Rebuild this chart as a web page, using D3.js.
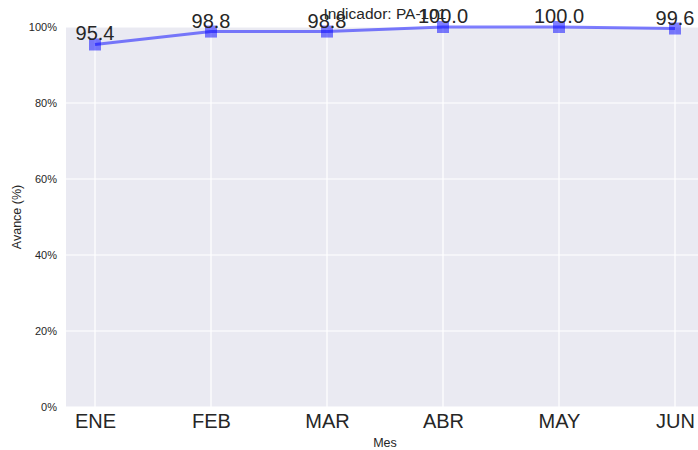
<!DOCTYPE html>
<html>
<head>
<meta charset="utf-8">
<script src="https://cdn.jsdelivr.net/npm/d3@7"></script>
<style>
  body { margin: 0; background: #fff; }
  svg { display: block; font-family: 'Liberation Sans', Arial, sans-serif; }
</style>
</head>
<body>
<div id="chart"></div>
<script>
const months = ['ENE', 'FEB', 'MAR', 'ABR', 'MAY', 'JUN']
const avance = [95.4, 98.8, 98.8, 100.0, 100.0, 99.6]
const yTicks = [0, 20, 40, 60, 80, 100]
const title = 'Indicador: PA-101'

const width = 698
const height = 450
const margin = { top: 27, right: -6, bottom: 43, left: 66 }

const svg = d3.select('#chart')
  .append('svg')
  .attr('width', width)
  .attr('height', height)

const x = d3.scaleLinear()
  .domain([-0.25, months.length - 0.75])
  .range([margin.left, width - margin.right])
const y = d3.scaleLinear()
  .domain([0, 100])
  .range([height - margin.bottom, margin.top])

svg.append('clipPath').attr('id', 'plotclip')
  .append('rect')
  .attr('x', margin.left).attr('y', margin.top)
  .attr('width', width - margin.right - margin.left)
  .attr('height', height - margin.bottom - margin.top)

// background
svg.append('rect')
  .attr('x', margin.left).attr('y', margin.top)
  .attr('width', width - margin.right - margin.left)
  .attr('height', height - margin.bottom - margin.top)
  .attr('fill', '#eaeaf2')

const grid = svg.append('g').attr('clip-path', 'url(#plotclip)')
grid.selectAll('.gy').data(yTicks).join('line')
  .attr('x1', margin.left).attr('x2', width - margin.right)
  .attr('y1', d => y(d)).attr('y2', d => y(d))
  .attr('stroke', '#fff').attr('stroke-width', 1.2)
grid.selectAll('.gx').data(months).join('line')
  .attr('x1', (d, i) => x(i)).attr('x2', (d, i) => x(i))
  .attr('y1', margin.top).attr('y2', height - margin.bottom)
  .attr('stroke', '#fff').attr('stroke-width', 1.2)

// y axis
const yAxis = svg.append('g')
  .attr('transform', `translate(${margin.left},0)`)
  .call(d3.axisLeft(y).tickValues(yTicks).tickFormat(d => d + '%').tickSize(0).tickPadding(9))
yAxis.select('.domain').remove()
yAxis.selectAll('text').attr('font-size', 11).attr('fill', '#262626')
  .attr('font-family', "'Liberation Sans', Arial, sans-serif")

// x axis
const xAxis = svg.append('g')
  .attr('transform', `translate(0,${height - margin.bottom})`)
  .call(d3.axisBottom(x).tickValues(d3.range(months.length)).tickFormat(i => months[i]).tickSize(0).tickPadding(7))
xAxis.select('.domain').remove()
xAxis.selectAll('text').attr('font-size', 20).attr('fill', '#262626')
  .attr('font-family', "'Liberation Sans', Arial, sans-serif")

// axis labels
svg.append('text')
  .attr('x', (margin.left + width - margin.right) / 2)
  .attr('y', 447)
  .attr('text-anchor', 'middle')
  .attr('font-size', 12.5).attr('fill', '#262626')
  .text('Mes')
svg.append('text')
  .attr('transform', `translate(21,${(margin.top + height - margin.bottom) / 2}) rotate(-90)`)
  .attr('text-anchor', 'middle')
  .attr('font-size', 12.5).attr('fill', '#262626')
  .text('Avance (%)')

// line
const line = d3.line()
  .x((d, i) => x(i))
  .y(d => y(d))
svg.append('path')
  .datum(avance)
  .attr('d', line)
  .attr('fill', 'none')
  .attr('stroke', 'blue')
  .attr('stroke-opacity', 0.5)
  .attr('stroke-width', 3)

svg.selectAll('.pt').data(avance).join('rect')
  .attr('x', (d, i) => x(i) - 6)
  .attr('y', d => y(d) - 6)
  .attr('width', 12).attr('height', 12)
  .attr('fill', 'blue').attr('fill-opacity', 0.5)

// value labels
svg.selectAll('.lbl').data(avance).join('text')
  .attr('x', (d, i) => x(i))
  .attr('y', d => y(d) - 4)
  .attr('text-anchor', 'middle')
  .attr('font-size', 20).attr('fill', '#262626')
  .text(d => d.toFixed(1))

// title
svg.append('text')
  .attr('x', (margin.left + width - margin.right) / 2)
  .attr('y', 19)
  .attr('text-anchor', 'middle')
  .attr('font-size', 15.5).attr('fill', '#262626')
  .text(title)
</script>
</body>
</html>
